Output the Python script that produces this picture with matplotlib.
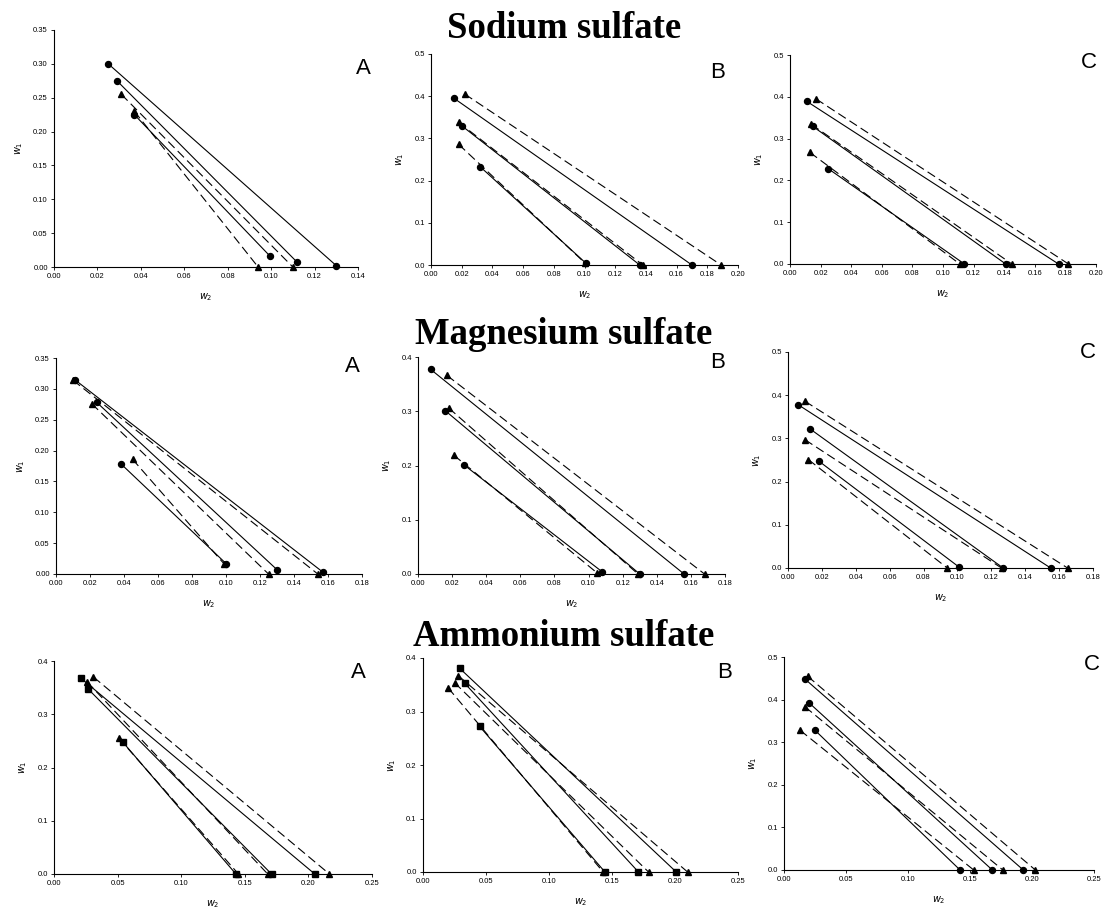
import matplotlib
matplotlib.use('Agg')
import matplotlib.pyplot as plt

# tie lines: (w2 top, w1 top, w2 bottom, w1 bottom)
na_A_solid = [(0.025, 0.300, 0.130, 0.002), (0.029, 0.275, 0.112, 0.007), (0.037, 0.225, 0.0995, 0.016)]
na_A_dash = [(0.031, 0.255, 0.110, 0.0), (0.037, 0.230, 0.094, 0.0)]
na_B_solid = [(0.015, 0.395, 0.170, 0.0), (0.020, 0.330, 0.136, 0.0), (0.032, 0.233, 0.101, 0.004)]
na_B_dash = [(0.022, 0.405, 0.189, 0.0), (0.018, 0.338, 0.138, 0.0), (0.018, 0.286, 0.1005, 0.004)]
na_C_solid = [(0.011, 0.389, 0.1755, 0.0), (0.015, 0.329, 0.141, 0.0), (0.025, 0.228, 0.114, 0.0)]
na_C_dash = [(0.017, 0.395, 0.182, 0.0), (0.014, 0.334, 0.145, 0.0), (0.013, 0.267, 0.111, 0.0)]

mg_A_solid = [(0.011, 0.315, 0.157, 0.003), (0.024, 0.278, 0.130, 0.007), (0.038, 0.179, 0.100, 0.017)]
mg_A_dash = [(0.010, 0.314, 0.154, 0.0), (0.021, 0.276, 0.125, 0.0), (0.045, 0.186, 0.099, 0.016)]
mg_B_solid = [(0.0075, 0.377, 0.156, 0.0), (0.016, 0.301, 0.130, 0.0), (0.027, 0.201, 0.108, 0.004)]
mg_B_dash = [(0.017, 0.366, 0.168, 0.0), (0.018, 0.306, 0.129, 0.0), (0.021, 0.219, 0.105, 0.002)]
mg_C_solid = [(0.006, 0.378, 0.155, 0.0), (0.013, 0.322, 0.127, 0.0), (0.018, 0.248, 0.101, 0.002)]
mg_C_dash = [(0.010, 0.386, 0.165, 0.0), (0.010, 0.297, 0.126, 0.0), (0.012, 0.251, 0.094, 0.0)]

am_A_solid = [(0.021, 0.368, 0.205, 0.0), (0.027, 0.347, 0.171, 0.0), (0.054, 0.248, 0.143, 0.0)]
am_A_dash = [(0.031, 0.370, 0.2165, 0.0), (0.026, 0.361, 0.168, 0.0), (0.051, 0.255, 0.145, 0.0)]
am_B_solid = [(0.029, 0.381, 0.201, 0.0), (0.033, 0.353, 0.171, 0.0), (0.045, 0.272, 0.1444, 0.0)]
am_B_dash = [(0.028, 0.367, 0.210, 0.0), (0.025, 0.354, 0.179, 0.0), (0.020, 0.344, 0.143, 0.0)]
am_C_solid = [(0.017, 0.448, 0.193, 0.0), (0.020, 0.393, 0.168, 0.0), (0.025, 0.328, 0.142, 0.0)]
am_C_dash = [(0.019, 0.455, 0.2027, 0.0), (0.017, 0.383, 0.1765, 0.0), (0.013, 0.328, 0.153, 0.0)]

titles = ['Sodium sulfate', 'Magnesium sulfate', 'Ammonium sulfate']
letters = ['A', 'B', 'C']

# axes boxes in pixels: left, right, bottom, top
boxes = [[(54, 358, 267, 30), (431, 738, 265, 54), (790, 1096, 264, 55)],
         [(56, 362, 574, 358), (418, 725, 574, 357), (788, 1093, 568, 352)],
         [(54, 372, 874, 661), (423, 738, 872, 658), (784, 1094, 870, 657)]]
data = [[(na_A_solid, na_A_dash), (na_B_solid, na_B_dash), (na_C_solid, na_C_dash)],
        [(mg_A_solid, mg_A_dash), (mg_B_solid, mg_B_dash), (mg_C_solid, mg_C_dash)],
        [(am_A_solid, am_A_dash), (am_B_solid, am_B_dash), (am_C_solid, am_C_dash)]]
xmax = [[0.14, 0.20, 0.20], [0.18, 0.18, 0.18], [0.25, 0.25, 0.25]]
xstep = [[0.02, 0.02, 0.02], [0.02, 0.02, 0.02], [0.05, 0.05, 0.05]]
ymax = [[0.35, 0.5, 0.5], [0.35, 0.4, 0.5], [0.4, 0.4, 0.5]]
ystep = [[0.05, 0.1, 0.1], [0.05, 0.1, 0.1], [0.1, 0.1, 0.1]]
letter_pos = [[(363, 68), (718, 72), (1089, 62)],
              [(352, 367), (718, 363), (1088, 352)],
              [(358, 673), (725, 673), (1092, 665)]]
title_y = [28, 335, 636]
solid_mk = [['o', 'o', 'o'], ['o', 'o', 'o'], ['s', 's', 'o']]

W, H = 1107, 908
fig = plt.figure(figsize=(W / 100, H / 100), dpi=100)
plt.rcParams['font.family'] = ['Liberation Sans', 'DejaVu Sans']

for r in range(3):
    fig.text(564 / W, 1 - title_y[r] / H, titles[r], ha='center', va='center',
             family='Liberation Serif', weight='bold', fontsize=26.5)
    for c in range(3):
        l, rr, b, t = boxes[r][c]
        ax = fig.add_axes([l / W, 1 - b / H, (rr - l) / W, (b - t) / H])
        solid, dash = data[r][c]
        for x1, y1, x2, y2 in solid:
            ax.plot([x1, x2], [y1, y2], '-', color='black', lw=0.8,
                    marker=solid_mk[r][c], ms=4.3, clip_on=False)
        for x1, y1, x2, y2 in dash:
            ax.plot([x1, x2], [y1, y2], color='black', lw=0.8, dashes=(8, 4),
                    marker='^', ms=4.3, clip_on=False)
        ax.set_xlim(0, xmax[r][c])
        ax.set_ylim(0, ymax[r][c])
        nx = int(round(xmax[r][c] / xstep[r][c]))
        ny = int(round(ymax[r][c] / ystep[r][c]))
        ax.set_xticks([i * xstep[r][c] for i in range(nx + 1)])
        ax.set_yticks([i * ystep[r][c] for i in range(ny + 1)])
        ydig = 2 if ystep[r][c] < 0.1 else 1
        ax.set_yticklabels(['%.*f' % (ydig, i * ystep[r][c]) for i in range(ny + 1)])
        ax.set_xticklabels(['%.2f' % (i * xstep[r][c]) for i in range(nx + 1)])
        ax.spines['top'].set_visible(False)
        ax.spines['right'].set_visible(False)
        ax.spines['left'].set_linewidth(0.8)
        ax.spines['bottom'].set_linewidth(0.8)
        ax.tick_params(direction='out', length=2.5, width=0.6, labelsize=5.5, pad=2)
        ax.set_xlabel('$w_2$', fontsize=7, labelpad=8)
        ax.set_ylabel('$w_1$', fontsize=7, labelpad=6)
        lx, ly = letter_pos[r][c]
        fig.text(lx / W, 1 - ly / H, letters[c], ha='center', va='center', fontsize=16)

plt.savefig('out.png', dpi=100)
